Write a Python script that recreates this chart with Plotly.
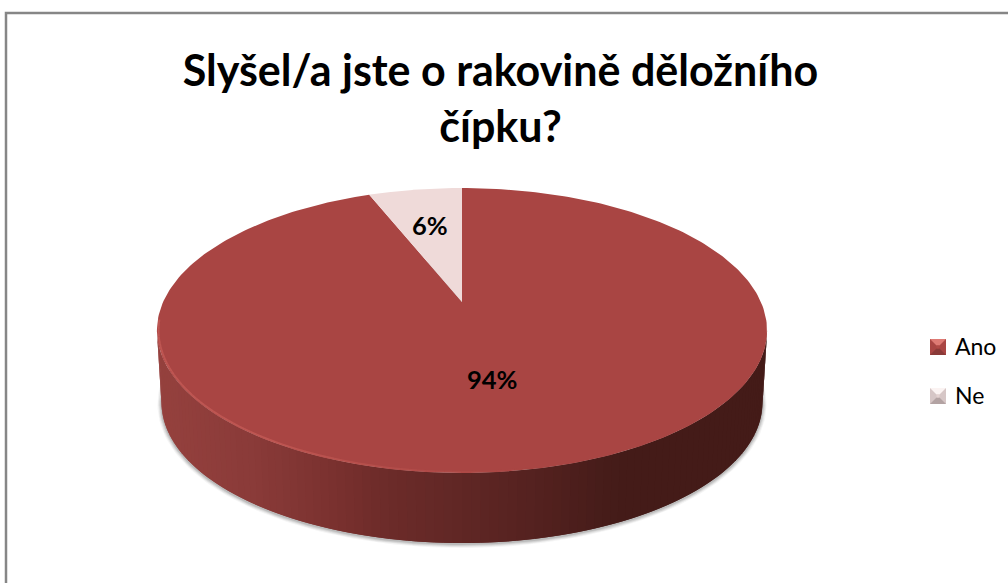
import numpy as np
import plotly.graph_objects as go

# Survey answers, in percent
categories = ["Ano", "Ne"]
values = [94, 6]
slice_colors = ["#A94543", "#EFDAD9"]
chart_title = "Slyšel/a jste o rakovině děložního<br>čípku?"

# Perspective model of the tilted disc, in page pixels
CX, CY = 462.0, 302.0
A, B, K = 298.9, 136.8, 0.2
BASE_SCALE, BASE_CY = 0.985, 374.6
FONT = "Lato"


def project(frac, radius=1.0, scale=1.0, cy=CY, cx=CX):
    """Map a clockwise pie fraction (0 = top) onto the tilted disc."""
    ang = 2 * np.pi * np.asarray(frac, dtype=float)
    u, v = radius * np.sin(ang), radius * np.cos(ang)
    d = 1 + K * v
    return cx + scale * A * u / d, cy - scale * B * v / d


def side_color(x):
    xs = [160, 250, 340, 380, 460, 540, 600, 630]
    rs = [0x95, 0x8A, 0x78, 0x6D, 0x60, 0x53, 0x47, 0x44]
    gs = [0x41, 0x3B, 0x30, 0x2C, 0x27, 0x21, 0x1D, 0x1B]
    bs = [0x3E, 0x39, 0x2E, 0x2A, 0x25, 0x1F, 0x1A, 0x18]
    return "rgb(%d,%d,%d)" % (np.interp(x, xs, rs), np.interp(x, xs, gs), np.interp(x, xs, bs))


def polygon(x, y, color, name=None):
    return go.Scatter(x=list(x), y=list(y), mode="lines", fill="toself", fillcolor=color,
                      line=dict(width=0), hoverinfo="skip" if name is None else "name",
                      name=name or "", showlegend=False)


fig = go.Figure()

# Soft shadow below the base of the disc
ring = np.linspace(0, 1, 241)
for grow, alpha in zip([4.0, 3.0, 2.0, 1.0], [0.06, 0.10, 0.14, 0.18]):
    sx, sy = project(ring, scale=BASE_SCALE, cy=BASE_CY + 1.0)
    sx = CX + (sx - CX) * (1 + grow / 300)
    sy = BASE_CY + 1.0 + (sy - BASE_CY - 1.0) * (1 + grow / 170)
    fig.add_trace(polygon(sx, sy, f"rgba(90,90,90,{alpha})"))

# Front wall, painted as overlapping vertical strips from left to right
edge = np.arccos(-K) / (2 * np.pi)
wall = np.linspace(1 - edge, edge, 111)
for i in range(len(wall) - 1):
    f = wall[i:i + 3]
    tx, ty = project(f)
    bx, by = project(f, scale=BASE_SCALE, cy=BASE_CY)
    fig.add_trace(polygon(np.r_[tx, bx[::-1]], np.r_[ty, by[::-1]], side_color(tx[0])))

# Top face, one slice per answer
start = 0.0
total = sum(values)
for cat, val, col in zip(categories, values, slice_colors):
    arc = np.linspace(start, start + val / total, 300)
    ax, ay = project(arc)
    fig.add_trace(polygon(np.r_[CX, ax], np.r_[CY, ay], col, cat))
    start += val / total

# Lit bevel along the near rim of the top face, fading towards the right
rim = np.linspace(0.73, 0.47, 70)
for i in range(len(rim) - 1):
    f = rim[i:i + 2]
    strength = np.clip((f[0] - 0.47) / 0.12, 0, 1)
    rx, ry = project(f, radius=0.995)
    fig.add_trace(go.Scatter(x=rx, y=ry, mode="lines", hoverinfo="skip", showlegend=False,
                             line=dict(width=2, color=f"rgba(208,100,94,{0.55 * strength:.3f})")))

# Legend keys with a bevelled look: four wedges meeting around a small centre
key_shades = {
    "Ano": ("#8A3A38", "#DE7A74", "#A94543", "#B04A46"),
    "Ne": ("#B3A3A3", "#FBF3F2", "#D6C6C6", "#E4D2D1"),
}
KEY_X, KEY_SIZE, KEY_INSET = 930.0, 16.0, 6.5
key_tops = [339.0, 388.0]
for cat, top in zip(categories, key_tops):
    low, high, mid, face = key_shades[cat]
    x0, x1, y0, y1 = KEY_X, KEY_X + KEY_SIZE, top, top + KEY_SIZE
    i = KEY_INSET
    fig.add_trace(polygon([x0, x1, x1, x0], [y0, y0, y1, y1], mid))
    fig.add_trace(polygon([x0, x1, x1 - i, x0 + i], [y1, y1, y1 - i, y1 - i], low))
    fig.add_trace(polygon([x0, x1, x1 - i, x0 + i], [y0, y0, y0 + i, y0 + i], high))
    fig.add_trace(polygon([x0 + i, x1 - i, x1 - i, x0 + i], [y0 + i, y0 + i, y1 - i, y1 - i], face))

annotations = [
    dict(x=491.5, y=379, text=f"<b>{values[0]}%</b>", font=dict(size=25.5, color="#000000", family=FONT)),
    dict(x=429.5, y=225, text=f"<b>{values[1]}%</b>", font=dict(size=25.5, color="#000000", family=FONT)),
    dict(x=952.5, y=346, text=categories[0], xanchor="left", font=dict(size=23, color="#000000", family=FONT)),
    dict(x=952.5, y=395, text=categories[1], xanchor="left", font=dict(size=23, color="#000000", family=FONT)),
]
for a in annotations:
    a.update(xref="x", yref="y", showarrow=False, yanchor="middle")
    a.setdefault("xanchor", "center")

frame = dict(type="rect", xref="x", yref="y", x0=6, y0=13, x1=1030, y1=620,
             line=dict(color="#868686", width=2.5), fillcolor="rgba(0,0,0,0)", layer="above")

fig.update_layout(
    width=1008, height=583,
    margin=dict(l=0, r=0, t=0, b=0),
    paper_bgcolor="#FFFFFF", plot_bgcolor="#FFFFFF",
    showlegend=False,
    title=dict(text=f"<b>{chart_title}</b>", x=500.5 / 1008, xanchor="center", y=1 - 86 / 583, yanchor="top",
               font=dict(size=43, color="#000000", family=FONT)),
    xaxis=dict(range=[0, 1008], visible=False, fixedrange=True),
    yaxis=dict(range=[583, 0], visible=False, fixedrange=True),
    annotations=annotations,
    shapes=[frame],
)

fig.write_html("out.html", config=dict(displayModeBar=False))
